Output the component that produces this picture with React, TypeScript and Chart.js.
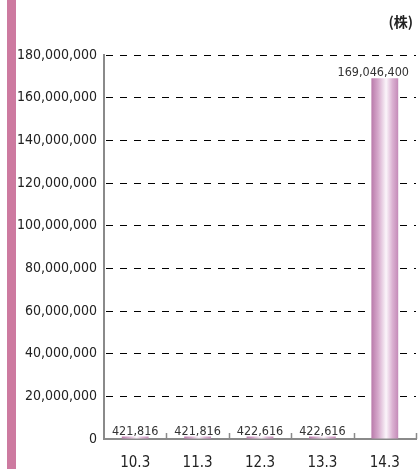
import React, { useEffect, useRef } from "react";
import { Chart, registerables } from "chart.js";

Chart.register(...registerables);

const categories = ["10.3", "11.3", "12.3", "13.3", "14.3"];
const shares = [421816, 421816, 422616, 422616, 169046400];
const yMin = 0;
const yMax = 180000000;
const yStep = 20000000;
const unitLabel = "(株)";

const FONT = '"DejaVu Sans Condensed", "DejaVu Sans", "Noto Sans", "Noto Sans CJK JP", sans-serif';
const BAR_PCT = 0.43;

const fmt = (v: number) => v.toLocaleString("en-US");

const extrasPlugin = {
  id: "extras",
  afterDatasetsDraw(chart: any) {
    const ctx = chart.ctx;
    const meta = chart.getDatasetMeta(0);
    ctx.save();
    ctx.fillStyle = "#333";
    ctx.font = "12.5px " + FONT;
    ctx.textAlign = "center";
    ctx.textBaseline = "alphabetic";
    const limit = chart.chartArea.right - 7;
    meta.data.forEach((bar: any, i: number) => {
      const text = fmt(shares[i]);
      const w = ctx.measureText(text).width;
      const x = Math.min(bar.x, limit - w / 2);
      ctx.fillText(text, x, bar.y - 2);
    });
    ctx.restore();
  },
  afterDraw(chart: any) {
    const ctx = chart.ctx;
    const xs = chart.scales.x;
    const bottom = chart.chartArea.bottom;
    ctx.save();
    ctx.strokeStyle = "#8a8a8a";
    ctx.lineWidth = 1.5;
    for (let i = 1; i <= categories.length; i++) {
      const x = Math.round(xs.getPixelForValue(i - 0.5)) + 0.5;
      ctx.beginPath();
      ctx.moveTo(x, bottom);
      ctx.lineTo(x, bottom - 6);
      ctx.stroke();
    }
    ctx.fillStyle = "#222";
    ctx.font = 'bold 14px "Noto Sans CJK JP", ' + FONT;
    ctx.textAlign = "right";
    ctx.textBaseline = "middle";
    ctx.fillText(unitLabel, 413, 21.5);
    ctx.restore();
  },
};

export default function App() {
  const ref = useRef<HTMLCanvasElement | null>(null);

  useEffect(() => {
    if (!ref.current) return;
    const chart = new Chart(ref.current, {
      type: "bar",
      data: {
        labels: categories,
        datasets: [
          {
            data: shares,
            minBarLength: 2.5,
            barPercentage: 1,
            categoryPercentage: BAR_PCT,
            backgroundColor: (c: any) => {
              const chart = c.chart;
              const xs = chart.scales?.x;
              if (!chart.chartArea || !xs || c.dataIndex === undefined) return "#c98fbd";
              const center = xs.getPixelForValue(c.dataIndex);
              const half = ((xs.width / categories.length) * BAR_PCT) / 2;
              const g = chart.ctx.createLinearGradient(center - half, 0, center + half, 0);
              g.addColorStop(0, "#b97aaa");
              g.addColorStop(0.25, "#d6a9cc");
              g.addColorStop(0.55, "#fbf5fa");
              g.addColorStop(0.78, "#dcb3d3");
              g.addColorStop(1, "#c48bb8");
              return g;
            },
            borderWidth: 0,
          },
        ],
      },
      options: {
        animation: false,
        responsive: true,
        maintainAspectRatio: false,
        layout: { padding: { top: 55, right: 4, left: 0, bottom: 0 } },
        plugins: {
          legend: { display: false },
          tooltip: { enabled: false },
          title: { display: false },
        },
        scales: {
          x: {
            offset: true,
            grid: { display: false, drawTicks: false },
            border: { display: true, color: "#8a8a8a", width: 2 },
            ticks: {
              color: "#222",
              font: { family: FONT, size: 15 },
              padding: 15,
            },
            afterFit: (s: any) => {
              s.height = 30;
            },
          },
          y: {
            min: yMin,
            max: yMax,
            grid: {
              drawTicks: false,
              color: (c: any) => (c.tick && c.tick.value === 0 ? "rgba(0,0,0,0)" : "#000"),
              lineWidth: 1,
            },
            border: { display: true, color: "#8a8a8a", width: 2, dash: [7, 7], dashOffset: -1 },
            ticks: {
              stepSize: yStep,
              color: "#222",
              font: { family: FONT, size: 14 },
              padding: 7,
              callback: (v: any) => fmt(Number(v)),
            },
            afterFit: (s: any) => {
              s.width = 104;
            },
          },
        },
      },
      plugins: [extrasPlugin],
    });
    return () => chart.destroy();
  }, []);

  return (
    <div style={{ position: "absolute", left: 0, top: 0, width: 420, height: 469, background: "#fff" }}>
      <div style={{ position: "absolute", left: 7, top: 0, width: 9, height: 469, background: "#cd7aa0" }} />
      <canvas ref={ref} style={{ position: "absolute", left: 0, top: 0 }} />
    </div>
  );
}
